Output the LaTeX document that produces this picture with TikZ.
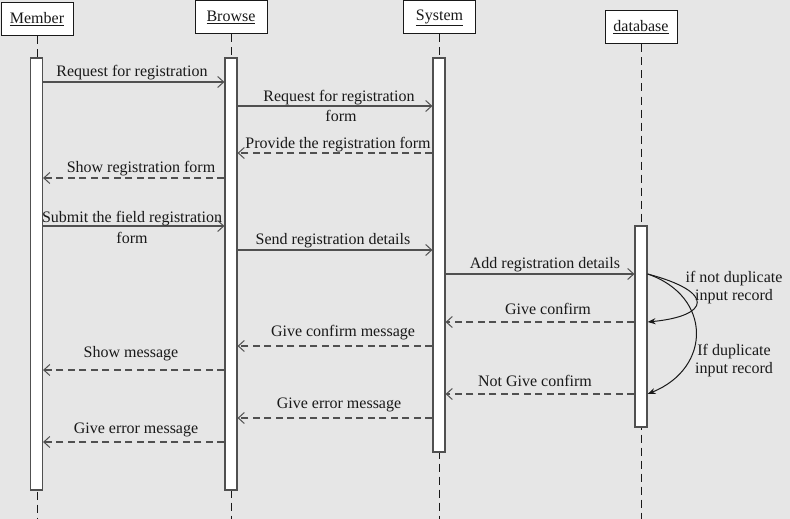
\documentclass[tikz,border=0pt]{standalone}
\usepackage{fontspec}
\setmainfont{Liberation Serif}
\usetikzlibrary{arrows.meta,calc}
\definecolor{bg}{RGB}{230,230,230}
\definecolor{ln}{RGB}{80,80,80}
\definecolor{tx}{RGB}{25,25,25}
\tikzset{
  head/.style={draw=tx,fill=white,line width=1pt,minimum width=72pt,minimum height=33pt,inner sep=0pt,font=\fontsize{16}{18}\selectfont,text=tx},
  life/.style={draw=tx,line width=1pt,dash pattern=on 8pt off 5pt},
  bar/.style={draw=ln,fill=white,line width=1.2pt,minimum width=12pt,inner sep=0pt},
  msg/.style={draw=ln,line width=1.2pt,-{Straight Barb[length=6pt,width=11pt,line width=1pt]}},
  ret/.style={msg,dash pattern=on 7pt off 4.5pt},
  lbl/.style={font=\fontsize{16}{18}\selectfont,text=tx,inner sep=0pt,align=center,yshift=-2pt},
  branch/.style={draw=tx,line width=1pt,-{Stealth[length=8pt,width=6pt]}}
}
\begin{document}
\begin{tikzpicture}[x=1pt,y=-1pt]
\fill[bg] (0,0) rectangle (790,519);
\useasboundingbox (0,0) rectangle (790,519);
% heads
\node[head] (hM) at (37,19.5) {\underline{Member}};
\node[head] (hB) at (231,17.5) {\underline{Browse}};
\node[head] (hS) at (439.5,17.5) {\underline{System}};
\node[head] (hD) at (641,27.5) {\underline{database}};
% lifelines
\coordinate (eM) at (37,519);
\coordinate (eB) at (231,519);
\coordinate (eS) at (439.5,519);
\coordinate (eD) at (641,519);
\draw[life] (hM.south) -- (eM);
\draw[life] (hB.south) -- (eB);
\draw[life] (hS.south) -- (eS);
\draw[life] (hD.south) -- (eD);
% activation bars
\node[bar,minimum height=432pt] (bM) at (36.5,274) {};
\node[bar,minimum height=432pt] (bB) at (231,274) {};
\node[bar,minimum height=394pt] (bS) at (439,255) {};
\node[bar,minimum height=201pt] (bD) at (641,326.5) {};
% messages
\draw[msg] (bM.east |- 0,82) -- (bB.west |- 0,82);
\node[lbl] (l1) at (132,71) {Request for registration};
\draw[msg] (bB.east |- 0,106) -- (bS.west |- 0,106);
\node[lbl] (l2) at (339,96) {Request for registration};
\node[lbl] (l2b) at (341,114) {form};
\draw[ret] (bS.west |- 0,153) -- (bB.east |- 0,153);
\node[lbl] (l3) at (338,143) {Provide the registration form};
\draw[ret] (bB.west |- 0,178) -- (bM.east |- 0,178);
\node[lbl] (l4) at (141,167) {Show registration form};
\draw[msg] (bM.east |- 0,226) -- (bB.west |- 0,226);
\node[lbl] (l5) at (132,217) {Submit the field registration};
\node[lbl] (l5b) at (132,236) {form};
\draw[msg] (bB.east |- 0,250) -- (bS.west |- 0,250);
\node[lbl] (l6) at (333,239) {Send registration details};
\draw[msg] (bS.east |- 0,274) -- (bD.west |- 0,274);
\node[lbl] (l7) at (545,263) {Add registration details};
\draw[ret] (bD.west |- 0,322) -- (bS.east |- 0,322);
\node[lbl] (l8) at (548,307) {Give confirm};
\draw[ret] (bS.west |- 0,346) -- (bB.east |- 0,346);
\node[lbl] (l9) at (343,331) {Give confirm message};
\draw[ret] (bB.west |- 0,370) -- (bM.east |- 0,370);
\node[lbl] (l10) at (131,352) {Show message};
\draw[ret] (bD.west |- 0,394) -- (bS.east |- 0,394);
\node[lbl] (l11) at (535,379) {Not Give confirm};
\draw[ret] (bS.west |- 0,418) -- (bB.east |- 0,418);
\node[lbl] (l12) at (339,403) {Give error message};
\draw[ret] (bB.west |- 0,442) -- (bM.east |- 0,442);
\node[lbl] (l13) at (136,428) {Give error message};
% branches
\coordinate (c0) at (bD.east |- 0,274);
\coordinate (c1) at (bD.east |- 0,322);
\coordinate (c2) at (bD.east |- 0,394);
\draw[branch] (c0) .. controls (716,292) and (710,316) .. (c1);
\draw[branch] (c0) .. controls (712,296) and (712,368) .. (c2);
\node[lbl] (l14) at (734,286) {if not duplicate\\input record};
\node[lbl] (l15) at (734,359) {If duplicate\\input record};
\end{tikzpicture}
\end{document}
